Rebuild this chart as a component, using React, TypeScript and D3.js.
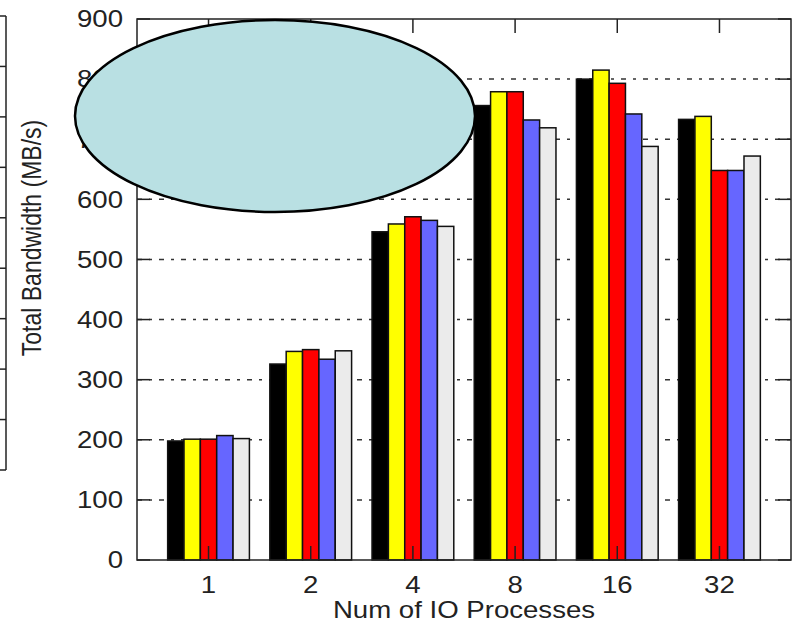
import React from 'react';
import * as d3 from 'd3';

// ── data ─────────────────────────────────────────────
const categories = ['1', '2', '4', '8', '16', '32'];
const blackSeries = [198, 326, 546, 756, 800, 733];
const yellowSeries = [201, 347, 559, 779, 815, 738];
const redSeries = [201, 350, 571, 779, 793, 648];
const blueSeries = [207, 334, 565, 732, 742, 648];
const greySeries = [202, 348, 555, 719, 688, 672];
const yTicks = [0, 100, 200, 300, 400, 500, 600, 700, 800, 900];
const seriesColors = ['#000000', '#ffff00', '#ff0000', '#6666ff', '#ebebeb'];

const series = [blackSeries, yellowSeries, redSeries, blueSeries, greySeries];

const W = 794, H = 623;
const left = 137, right = 791, top = 19, bottom = 560;
const FONT = 'Liberation Sans, Arial, Helvetica, sans-serif';
const SX = 1.2; // the picture is stretched sideways

export default function App() {
  const x = d3.scaleLinear().domain([-0.7, categories.length - 0.3]).range([left, right]);
  const y = d3.scaleLinear().domain([0, 900]).range([bottom, top]);
  const barW = x(0.16) - x(0);

  // right edge of the neighbouring (cropped) chart
  const yPrev = d3.scaleLinear().domain([0, 9]).range([470, 16]);

  return (
    <svg width={W} height={H} style={{ position: 'absolute', left: 0, top: 0, background: '#fff' }}>
      {/* cropped neighbour frame */}
      <g stroke="#222" strokeWidth={1.5} fill="none">
        <line x1={6} x2={6} y1={yPrev(9)} y2={yPrev(0)} />
        {d3.range(0, 10).map(t => (
          <line key={t} x1={0} x2={6} y1={yPrev(t)} y2={yPrev(t)} />
        ))}
      </g>

      {/* grid */}
      {yTicks.slice(1, -1).map(t => (
        <line key={t} x1={left} x2={right} y1={y(t)} y2={y(t)}
          stroke="#333" strokeWidth={1.5} strokeDasharray="5,7,3,7" />
      ))}

      {/* bars */}
      {categories.map((c, i) => (
        <g key={c}>
          {series.map((s, j) => (
            <rect key={j}
              x={x(i) + (j - 2.5) * barW}
              y={y(s[i])}
              width={barW}
              height={y(0) - y(s[i])}
              fill={seriesColors[j]}
              stroke="#111"
              strokeWidth={1.5} />
          ))}
        </g>
      ))}

      {/* frame + ticks */}
      <rect x={left} y={top} width={right - left} height={bottom - top} fill="none" stroke="#222" strokeWidth={1.5} />
      {yTicks.map(t => (
        <g key={t} stroke="#222" strokeWidth={1.5}>
          <line x1={left} x2={left + 13} y1={y(t)} y2={y(t)} />
          <line x1={right - 13} x2={right} y1={y(t)} y2={y(t)} />
        </g>
      ))}
      {categories.map((c, i) => (
        <g key={c} stroke="#222" strokeWidth={1.5}>
          <line x1={x(i)} x2={x(i)} y1={top} y2={top + 14} />
          <line x1={x(i)} x2={x(i)} y1={bottom} y2={bottom - 14} />
        </g>
      ))}

      {/* y tick labels */}
      {yTicks.map(t => (
        <g key={t} transform={`translate(123,${y(t)}) scale(${SX},1)`}>
          <text textAnchor="end" dy="0.36em" fontFamily={FONT} fontSize={23} fill="#222">{t}</text>
        </g>
      ))}

      {/* x tick labels */}
      {categories.map((c, i) => (
        <g key={c} transform={`translate(${x(i)},593) scale(${SX},1)`}>
          <text textAnchor="middle" fontFamily={FONT} fontSize={23} fill="#222">{c}</text>
        </g>
      ))}

      {/* axis titles */}
      <g transform={`translate(${(left + right) / 2},618) scale(${SX},1)`}>
        <text textAnchor="middle" fontFamily={FONT} fontSize={23} fill="#222">Num of IO Processes</text>
      </g>
      <g transform={`translate(41,238) scale(${SX},1) rotate(-90)`}>
        <text textAnchor="middle" fontFamily={FONT} fontSize={23} fill="#222">Total Bandwidth (MB/s)</text>
      </g>

      {/* callout ellipse */}
      <ellipse cx={275} cy={116} rx={200} ry={96} fill="#b9e0e3" stroke="#000" strokeWidth={2.5} />
    </svg>
  );
}
